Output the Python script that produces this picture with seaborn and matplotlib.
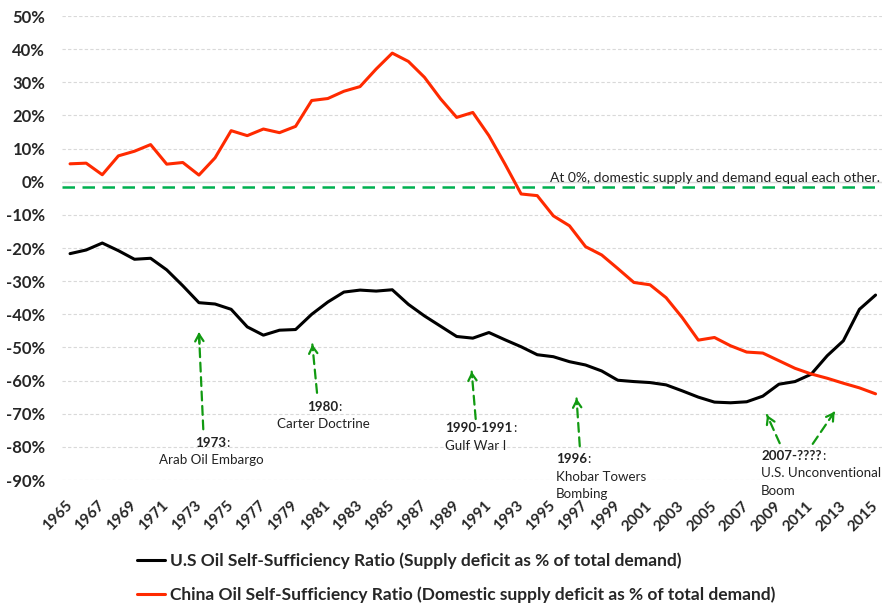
import matplotlib
matplotlib.use("Agg")
import matplotlib.pyplot as plt
import seaborn as sns
import pandas as pd
from matplotlib.ticker import FuncFormatter

# ------------------------
# data (percent)
# ------------------------
years = list(range(1965, 2016))

us_ratio = [-21.7, -20.6, -18.5, -20.8, -23.4, -23.1, -26.6, -31.4, -36.5, -36.9,
            -38.5, -43.8, -46.3, -44.8, -44.6, -40.0, -36.3, -33.3, -32.7, -33.0,
            -32.6, -37.0, -40.5, -43.6, -46.7, -47.2, -45.5, -47.7, -49.8, -52.2,
            -52.8, -54.3, -55.3, -57.1, -59.9, -60.3, -60.6, -61.3, -63.1, -65.0,
            -66.5, -66.7, -66.4, -64.7, -61.1, -60.3, -58.1, -52.5, -48.0, -38.5,
            -34.2]

china_ratio = [5.4, 5.6, 2.1, 7.8, 9.2, 11.2, 5.3, 5.8, 2.0, 7.2,
               15.4, 13.9, 15.9, 14.8, 16.7, 24.5, 25.1, 27.3, 28.7, 34.0,
               38.8, 36.3, 31.5, 25.0, 19.4, 20.9, 13.9, 5.3, -3.7, -4.2,
               -10.3, -13.3, -19.6, -22.1, -26.2, -30.4, -31.1, -35.0, -41.0, -47.8,
               -47.0, -49.5, -51.4, -51.7, -54.0, -56.3, -58.0, -59.3, -60.8, -62.2,
               -64.0]

us_label = "U.S Oil Self-Sufficiency Ratio (Supply deficit as % of total demand)"
china_label = "China Oil Self-Sufficiency Ratio (Domestic supply deficit as % of total demand)"

balance_level = -1.5
balance_text = "At 0%, domestic supply and demand equal each other."

# events: (bold year, description lines, text x, text y, align)
events = [
    ("1973", ["Arab Oil Embargo"], 1973.75, -78.8, "center"),
    ("1980", ["Carter Doctrine"], 1980.7, -67.9, "center"),
    ("1990-1991", ["Gulf War I"], 1988.3, -74.4, "left"),
    ("1996", ["Khobar Towers", "Bombing"], 1995.15, -83.7, "left"),
    ("2007-????", ["U.S. Unconventional", "Boom"], 2007.9, -82.7, "left"),
]
# arrows: (tip year, tip pct, tail year, tail pct)
arrows = [
    (1973.0, -45.4, 1973.27, -74.7),
    (1980.04, -49.1, 1980.33, -63.7),
    (1989.93, -57.3, 1990.18, -71.6),
    (1996.44, -65.4, 1996.64, -79.8),
    (2008.26, -70.4, 2009.05, -78.9),
    (2012.46, -69.4, 2011.1, -79.1),
]

df = pd.DataFrame({"year": years, "us": us_ratio, "china": china_ratio})

# ------------------------
# style
# ------------------------
sns.set_style("white")
plt.rcParams["font.family"] = ["Lato", "DejaVu Sans"]

fig = plt.figure(figsize=(8.82, 6.06), dpi=100)
ax = fig.add_axes([62 / 882, 1 - 480 / 606, 820 / 882, 464 / 606])

sns.lineplot(data=df, x="year", y="us", ax=ax, color="black", lw=2.2, label=us_label)
sns.lineplot(data=df, x="year", y="china", ax=ax, color="#FF2A00", lw=2.2, label=china_label)

ax.set_xlim(1964.5, 2015.4)
ax.set_ylim(-90, 50)
ax.set_yticks(range(-90, 51, 10))
ax.yaxis.set_major_formatter(FuncFormatter(lambda v, p: f"{v:.0f}%"))
ax.set_xticks(years[::2])
ax.set_xlabel("")
ax.set_ylabel("")

for s in ax.spines.values():
    s.set_visible(False)
ax.grid(axis="y", color="#D9D9D9", lw=0.8, ls=(0, (3, 2)))
ax.grid(axis="x", visible=False)
ax.axhline(0, color="#D9D9D9", lw=1, zorder=1)

ax.tick_params(axis="y", length=0, pad=12, labelsize=12)
ax.tick_params(axis="x", length=0, pad=17, labelsize=11)
for t in ax.get_yticklabels():
    t.set_fontweight("bold")
for t in ax.get_xticklabels():
    t.set_fontweight("bold")
    t.set_rotation(45)
    t.set_ha("right")
    t.set_va("center")
    t.set_rotation_mode("anchor")

# balance line
ax.axhline(balance_level, color="#00B050", lw=1.8, ls=(0, (5, 3)), zorder=3)
ax.text(2015.25, balance_level + 0.8, balance_text, ha="right", va="bottom",
        fontsize=10, color="#222222")

# event arrows
for tx, ty, sx, sy in arrows:
    ax.annotate("", xy=(tx, ty), xytext=(sx, sy),
                arrowprops=dict(arrowstyle="-", color="#119A11", lw=1.6, ls=(0, (4, 2.5)),
                                shrinkA=0, shrinkB=0))
    ax.annotate("", xy=(tx, ty), xytext=(tx + (sx - tx) * 0.12, ty + (sy - ty) * 0.12),
                arrowprops=dict(arrowstyle="->,head_length=0.5,head_width=0.3",
                                color="#119A11", lw=1.6, shrinkA=0, shrinkB=0))

# event labels
for year_txt, lines, x, y, align in events:
    head = ax.text(x, y, year_txt, fontsize=9.6, fontweight="bold", ha=align, va="center",
                   color="#222222")
    ax.annotate(":", xy=(1, 0.5), xycoords=head, ha="left", va="center", fontsize=9.6,
                color="#222222")
    for i, line in enumerate(lines):
        ax.text(x, y - 5.3 * (i + 1), line, fontsize=9.6, ha=align, va="center",
                color="#222222")

# legend under the chart
ax.get_legend().remove()
handles, labels = ax.get_legend_handles_labels()
fig.legend(handles, labels, loc="center left", bbox_to_anchor=(130 / 882, 1 - 578 / 606),
           frameon=False, prop={"weight": "bold", "size": 12.5}, handlelength=1.6,
           handletextpad=0.3, labelspacing=1.0, borderaxespad=0)

fig.savefig("out.png", dpi=100)
